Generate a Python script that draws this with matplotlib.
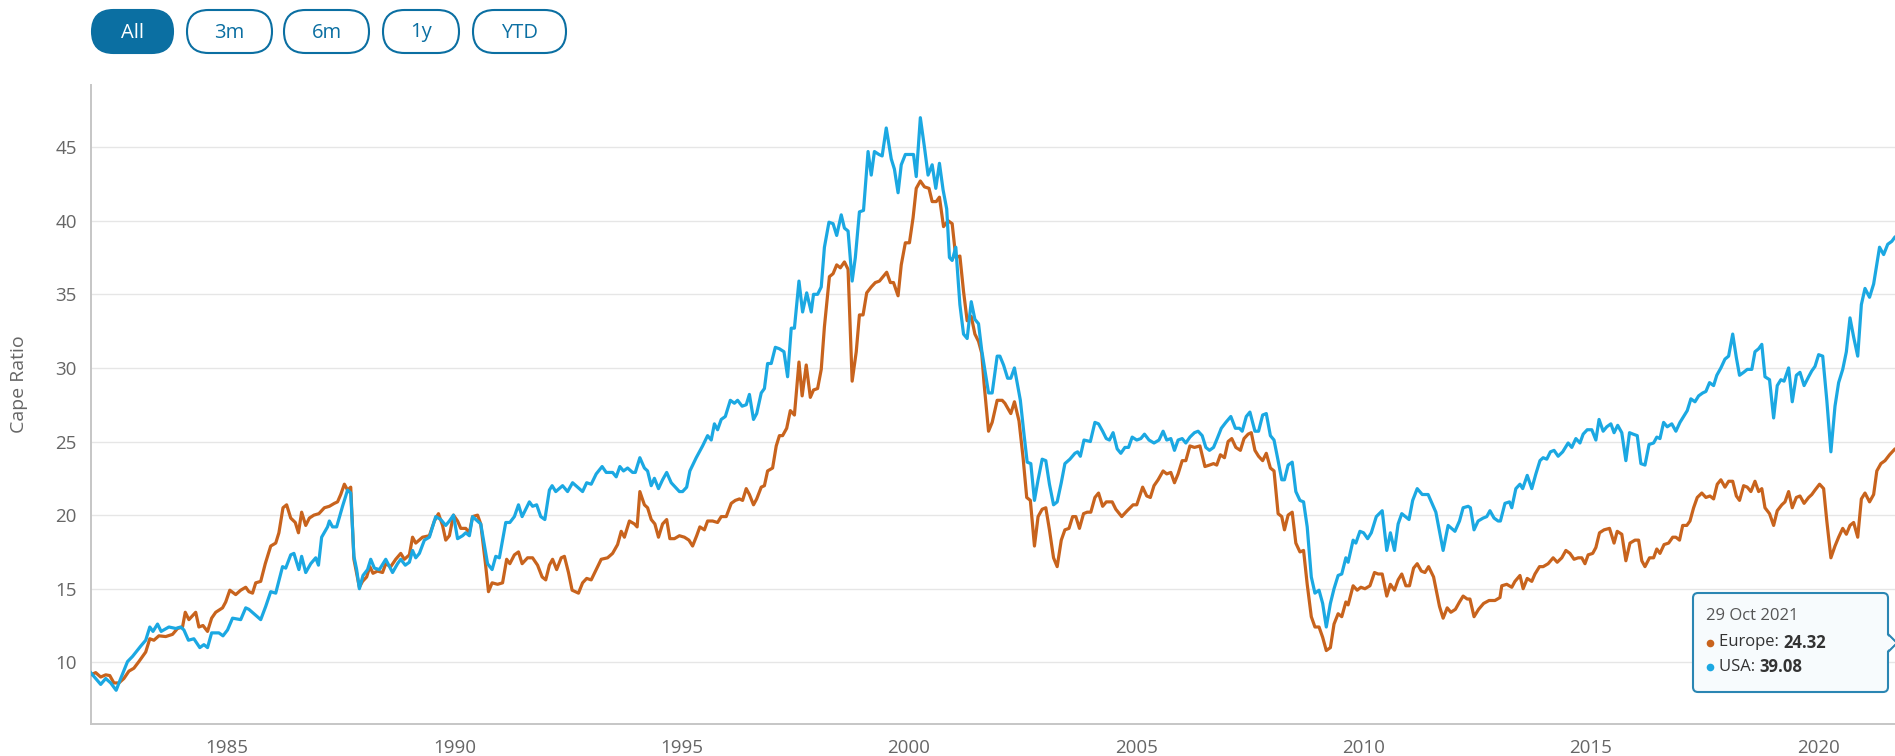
import matplotlib
matplotlib.use("Agg")
import matplotlib.pyplot as plt
from matplotlib.patches import FancyBboxPatch, Polygon

plt.rcParams['font.family'] = ['Open Sans', 'DejaVu Sans']

# ---------------- data (decimal years, CAPE ratio) ----------------
usa_dates = [
    1982.00, 1982.11, 1982.22, 1982.33, 1982.44, 1982.56, 1982.66, 1982.81, 1982.92, 1983.10,
    1983.21, 1983.30, 1983.37, 1983.47, 1983.55, 1983.72, 1983.87, 1983.98, 1984.05, 1984.15,
    1984.27, 1984.40, 1984.49, 1984.57, 1984.66, 1984.82, 1984.91, 1985.01, 1985.12, 1985.30,
    1985.41, 1985.48, 1985.63, 1985.74, 1985.85, 1985.96, 1986.07, 1986.22, 1986.29, 1986.40,
    1986.47, 1986.58, 1986.64, 1986.73, 1986.84, 1986.95, 1987.01, 1987.08, 1987.21, 1987.25,
    1987.32, 1987.41, 1987.54, 1987.65, 1987.72, 1987.79, 1987.85, 1987.91, 1987.99, 1988.09,
    1988.16, 1988.24, 1988.35, 1988.49, 1988.64, 1988.75, 1988.82, 1988.92, 1989.01, 1989.08,
    1989.15, 1989.23, 1989.34, 1989.45, 1989.52, 1989.59, 1989.70, 1989.81, 1989.89, 1989.98,
    1990.07, 1990.18, 1990.25, 1990.33, 1990.40, 1990.51, 1990.58, 1990.73, 1990.83, 1990.91,
    1990.99, 1991.13, 1991.22, 1991.32, 1991.41, 1991.49, 1991.65, 1991.72, 1991.81, 1991.90,
    1991.99, 1992.09, 1992.15, 1992.23, 1992.38, 1992.49, 1992.60, 1992.71, 1992.82, 1992.91,
    1993.01, 1993.12, 1993.25, 1993.34, 1993.48, 1993.56, 1993.64, 1993.72, 1993.81, 1993.92,
    1993.98, 1994.08, 1994.18, 1994.25, 1994.33, 1994.40, 1994.49, 1994.58, 1994.67, 1994.77,
    1994.86, 1994.95, 1995.02, 1995.11, 1995.18, 1995.32, 1995.46, 1995.57, 1995.65, 1995.72,
    1995.79, 1995.87, 1995.96, 1996.07, 1996.16, 1996.23, 1996.33, 1996.42, 1996.49, 1996.58,
    1996.65, 1996.75, 1996.82, 1996.89, 1996.97, 1997.06, 1997.15, 1997.25, 1997.33, 1997.41,
    1997.48, 1997.58, 1997.66, 1997.75, 1997.85, 1997.90, 1997.99, 1998.07, 1998.14, 1998.24,
    1998.33, 1998.41, 1998.51, 1998.58, 1998.66, 1998.75, 1998.82, 1998.91, 1999.00, 1999.10,
    1999.17, 1999.24, 1999.34, 1999.41, 1999.50, 1999.61, 1999.68, 1999.76, 1999.83, 1999.92,
    2000.01, 2000.10, 2000.16, 2000.25, 2000.34, 2000.42, 2000.51, 2000.59, 2000.67, 2000.75,
    2000.83, 2000.89, 2000.95, 2001.03, 2001.12, 2001.20, 2001.28, 2001.37, 2001.45, 2001.53,
    2001.60, 2001.75, 2001.83, 2001.94, 2002.00, 2002.08, 2002.17, 2002.24, 2002.32, 2002.45,
    2002.53, 2002.60, 2002.68, 2002.76, 2002.84, 2002.93, 2003.01, 2003.09, 2003.18, 2003.26,
    2003.35, 2003.43, 2003.54, 2003.65, 2003.71, 2003.77, 2003.85, 2003.99, 2004.09, 2004.17,
    2004.26, 2004.34, 2004.41, 2004.49, 2004.58, 2004.66, 2004.75, 2004.83, 2004.91, 2005.01,
    2005.10, 2005.18, 2005.28, 2005.39, 2005.50, 2005.59, 2005.67, 2005.76, 2005.84, 2005.92,
    2006.01, 2006.09, 2006.18, 2006.28, 2006.36, 2006.45, 2006.53, 2006.61, 2006.70, 2006.78,
    2006.87, 2006.97, 2007.08, 2007.18, 2007.27, 2007.33, 2007.42, 2007.50, 2007.61, 2007.69,
    2007.78, 2007.86, 2007.95, 2008.03, 2008.12, 2008.20, 2008.26, 2008.34, 2008.43, 2008.51,
    2008.60, 2008.68, 2008.76, 2008.85, 2008.93, 2009.02, 2009.10, 2009.18, 2009.27, 2009.35,
    2009.44, 2009.52, 2009.61, 2009.66, 2009.77, 2009.83, 2009.92, 2010.00, 2010.09, 2010.17,
    2010.28, 2010.41, 2010.51, 2010.59, 2010.68, 2010.76, 2010.84, 2011.00, 2011.08, 2011.18,
    2011.29, 2011.42, 2011.59, 2011.75, 2011.86, 2012.01, 2012.11, 2012.19, 2012.30, 2012.35,
    2012.43, 2012.52, 2012.63, 2012.71, 2012.78, 2012.87, 2012.96, 2013.01, 2013.11, 2013.21,
    2013.26, 2013.35, 2013.44, 2013.50, 2013.60, 2013.70, 2013.79, 2013.88, 2013.95, 2014.03,
    2014.11, 2014.19, 2014.28, 2014.38, 2014.50, 2014.58, 2014.67, 2014.76, 2014.83, 2014.92,
    2015.02, 2015.11, 2015.18, 2015.27, 2015.35, 2015.44, 2015.51, 2015.59, 2015.68, 2015.77,
    2015.85, 2015.93, 2016.02, 2016.10, 2016.19, 2016.28, 2016.38, 2016.45, 2016.52, 2016.60,
    2016.68, 2016.78, 2016.87, 2016.96, 2017.04, 2017.12, 2017.20, 2017.29, 2017.37, 2017.46,
    2017.53, 2017.61, 2017.70, 2017.77, 2017.86, 2017.95, 2018.03, 2018.12, 2018.20, 2018.27,
    2018.36, 2018.44, 2018.54, 2018.61, 2018.69, 2018.76, 2018.83, 2018.93, 2019.02, 2019.10,
    2019.18, 2019.25, 2019.35, 2019.43, 2019.52, 2019.60, 2019.69, 2019.79, 2019.86, 2019.93,
    2020.01, 2020.10, 2020.19, 2020.28, 2020.37, 2020.45, 2020.54, 2020.62, 2020.70, 2020.78,
    2020.87, 2020.95, 2021.03, 2021.13, 2021.22, 2021.35, 2021.44, 2021.53, 2021.62, 2021.69,
    2021.83,
]
usa_cape = [
    9.3, 8.9, 8.5, 8.9, 8.6, 8.1, 8.9, 10.05, 10.4, 11.1,
    11.5, 12.4, 12.1, 12.6, 12.1, 12.4, 12.3, 12.4, 12.2, 11.5,
    11.6, 11.0, 11.2, 11.0, 12.0, 12.0, 11.8, 12.2, 13.0, 12.9,
    13.7, 13.6, 13.2, 12.9, 13.8, 14.8, 14.7, 16.5, 16.4, 17.3,
    17.4, 16.3, 17.2, 16.1, 16.7, 17.1, 16.6, 18.5, 19.2, 19.6,
    19.2, 19.2, 20.6, 21.7, 21.5, 17.2, 16.3, 15.0, 15.9, 16.3,
    17.0, 16.4, 16.3, 17.0, 16.1, 16.7, 17.0, 16.6, 16.8, 17.6,
    17.1, 17.4, 18.3, 18.5, 19.2, 19.9, 19.7, 19.3, 19.6, 20.0,
    18.4, 18.6, 18.8, 18.6, 19.9, 19.6, 19.4, 16.7, 16.3, 17.2,
    17.1, 19.5, 19.5, 19.9, 20.7, 19.9, 20.9, 20.6, 20.7, 19.9,
    19.7, 21.7, 22.0, 21.6, 22.0, 21.6, 22.2, 21.9, 21.6, 22.2,
    22.1, 22.8, 23.3, 22.9, 22.9, 22.6, 23.3, 23.0, 23.2, 22.9,
    22.9, 23.9, 23.2, 23.0, 22.0, 22.5, 21.8, 22.4, 22.9, 22.2,
    21.9, 21.6, 21.6, 21.9, 23.0, 23.9, 24.7, 25.4, 25.1, 26.2,
    25.8, 26.5, 26.7, 27.8, 27.6, 27.8, 27.4, 27.5, 28.2, 26.5,
    26.9, 28.3, 28.6, 30.3, 30.3, 31.4, 31.3, 31.1, 29.4, 32.7,
    32.7, 35.9, 33.8, 35.1, 33.8, 35.0, 35.0, 35.5, 38.2, 39.9,
    39.8, 39.0, 40.4, 39.5, 39.3, 35.9, 37.5, 40.6, 40.7, 44.7,
    43.1, 44.7, 44.5, 44.4, 46.3, 44.2, 43.5, 41.9, 43.8, 44.5,
    44.5, 44.5, 43.0, 47.0, 45.0, 43.1, 43.8, 42.2, 43.9, 42.1,
    40.8, 37.5, 37.3, 38.2, 34.3, 32.3, 32.0, 34.5, 33.3, 33.0,
    31.2, 28.3, 28.3, 30.8, 30.8, 30.2, 29.3, 29.3, 30.0, 27.8,
    25.5, 23.6, 23.5, 21.0, 22.4, 23.8, 23.7, 22.1, 20.7, 20.9,
    22.2, 23.5, 23.8, 24.2, 24.3, 24.0, 25.1, 25.0, 26.3, 26.2,
    25.7, 25.2, 25.1, 25.6, 24.5, 24.2, 24.6, 24.6, 25.3, 25.1,
    25.2, 25.5, 25.1, 24.9, 25.1, 25.7, 25.1, 25.2, 24.4, 25.1,
    25.2, 24.9, 25.3, 25.6, 25.7, 25.4, 24.6, 24.4, 24.6, 25.2,
    25.9, 26.3, 26.7, 25.9, 25.9, 25.7, 26.7, 27.0, 25.7, 25.7,
    26.8, 26.9, 25.4, 25.1, 23.7, 22.4, 22.4, 23.4, 23.6, 21.6,
    21.0, 20.9, 19.2, 15.8, 14.7, 14.9, 14.0, 12.4, 14.0, 15.0,
    15.9, 16.0, 17.1, 16.8, 18.3, 18.1, 18.9, 18.8, 18.4, 18.8,
    19.9, 20.3, 17.6, 18.8, 17.6, 19.4, 20.1, 19.7, 21.0, 21.8,
    21.4, 21.4, 20.2, 17.6, 19.3, 18.9, 19.6, 20.5, 20.6, 20.5,
    19.0, 19.6, 19.8, 19.9, 20.3, 19.8, 19.6, 19.6, 20.8, 20.9,
    20.5, 21.8, 22.1, 21.8, 22.7, 21.8, 22.8, 23.7, 23.9, 23.8,
    24.3, 24.4, 24.0, 24.3, 24.9, 24.6, 25.2, 24.9, 25.5, 25.8,
    25.8, 25.1, 26.5, 25.7, 26.0, 26.2, 25.6, 26.1, 25.6, 23.7,
    25.6, 25.5, 25.4, 23.5, 23.4, 24.8, 24.9, 25.3, 25.2, 26.3,
    26.0, 26.2, 25.7, 26.3, 26.7, 27.1, 27.9, 27.7, 28.1, 28.3,
    28.4, 29.0, 28.8, 29.5, 30.0, 30.6, 30.8, 32.3, 30.7, 29.5,
    29.7, 29.9, 29.9, 31.1, 31.3, 31.6, 29.4, 29.2, 26.6, 28.8,
    29.2, 29.1, 30.0, 27.7, 29.5, 29.7, 28.8, 29.4, 29.8, 30.1,
    30.9, 30.8, 27.8, 24.3, 27.4, 29.0, 29.9, 31.1, 33.4, 32.1,
    30.8, 34.3, 35.4, 34.8, 35.7, 38.2, 37.7, 38.4, 38.6, 38.9,
    39.08,
]

europe_dates = [
    1982.00, 1982.11, 1982.22, 1982.33, 1982.42, 1982.51, 1982.62, 1982.73, 1982.84, 1982.95,
    1983.06, 1983.21, 1983.30, 1983.39, 1983.50, 1983.65, 1983.80, 1983.91, 1984.02, 1984.08,
    1984.16, 1984.31, 1984.38, 1984.47, 1984.57, 1984.66, 1984.75, 1984.90, 1984.97, 1985.06,
    1985.19, 1985.30, 1985.41, 1985.48, 1985.56, 1985.63, 1985.74, 1985.84, 1985.96, 1986.07,
    1986.14, 1986.23, 1986.31, 1986.40, 1986.50, 1986.57, 1986.64, 1986.73, 1986.81, 1986.91,
    1987.02, 1987.14, 1987.25, 1987.36, 1987.43, 1987.50, 1987.58, 1987.65, 1987.72, 1987.79,
    1987.91, 1987.98, 1988.07, 1988.14, 1988.21, 1988.31, 1988.42, 1988.49, 1988.60, 1988.71,
    1988.82, 1988.90, 1989.01, 1989.08, 1989.15, 1989.30, 1989.45, 1989.56, 1989.65, 1989.74,
    1989.81, 1989.89, 1989.98, 1990.07, 1990.14, 1990.25, 1990.33, 1990.40, 1990.51, 1990.58,
    1990.68, 1990.75, 1990.83, 1990.95, 1991.06, 1991.15, 1991.22, 1991.32, 1991.41, 1991.49,
    1991.61, 1991.72, 1991.83, 1991.93, 1992.01, 1992.09, 1992.16, 1992.25, 1992.35, 1992.42,
    1992.51, 1992.59, 1992.73, 1992.82, 1992.91, 1993.01, 1993.12, 1993.23, 1993.37, 1993.48,
    1993.59, 1993.67, 1993.74, 1993.85, 1993.96, 1994.02, 1994.08, 1994.18, 1994.25, 1994.33,
    1994.41, 1994.49, 1994.58, 1994.67, 1994.74, 1994.84, 1994.95, 1995.06, 1995.16, 1995.24,
    1995.33, 1995.40, 1995.50, 1995.57, 1995.68, 1995.79, 1995.87, 1995.98, 1996.09, 1996.18,
    1996.27, 1996.34, 1996.42, 1996.49, 1996.58, 1996.65, 1996.75, 1996.82, 1996.89, 1997.00,
    1997.08, 1997.15, 1997.22, 1997.31, 1997.39, 1997.48, 1997.58, 1997.65, 1997.74, 1997.83,
    1997.90, 1997.99, 1998.07, 1998.14, 1998.25, 1998.33, 1998.41, 1998.49, 1998.58, 1998.66,
    1998.75, 1998.84, 1998.91, 1998.99, 1999.07, 1999.17, 1999.26, 1999.35, 1999.43, 1999.51,
    1999.59, 1999.66, 1999.76, 1999.83, 1999.92, 2000.01, 2000.09, 2000.16, 2000.25, 2000.34,
    2000.44, 2000.51, 2000.60, 2000.67, 2000.76, 2000.86, 2000.95, 2001.03, 2001.12, 2001.20,
    2001.28, 2001.37, 2001.45, 2001.53, 2001.60, 2001.65, 2001.75, 2001.83, 2001.94, 2002.05,
    2002.11, 2002.24, 2002.32, 2002.42, 2002.51, 2002.59, 2002.67, 2002.76, 2002.84, 2002.93,
    2003.01, 2003.09, 2003.18, 2003.26, 2003.35, 2003.43, 2003.52, 2003.60, 2003.67, 2003.75,
    2003.84, 2003.92, 2004.00, 2004.09, 2004.17, 2004.26, 2004.34, 2004.47, 2004.55, 2004.68,
    2004.80, 2004.93, 2005.01, 2005.14, 2005.23, 2005.31, 2005.39, 2005.48, 2005.59, 2005.67,
    2005.76, 2005.84, 2005.92, 2006.01, 2006.09, 2006.18, 2006.28, 2006.40, 2006.51, 2006.61,
    2006.70, 2006.77, 2006.85, 2006.94, 2007.02, 2007.10, 2007.19, 2007.29, 2007.37, 2007.46,
    2007.53, 2007.61, 2007.69, 2007.78, 2007.86, 2007.95, 2008.03, 2008.12, 2008.20, 2008.26,
    2008.34, 2008.43, 2008.51, 2008.60, 2008.68, 2008.76, 2008.85, 2008.93, 2009.02, 2009.10,
    2009.18, 2009.27, 2009.35, 2009.44, 2009.52, 2009.61, 2009.66, 2009.77, 2009.86, 2009.94,
    2010.03, 2010.14, 2010.24, 2010.32, 2010.41, 2010.51, 2010.59, 2010.68, 2010.76, 2010.84,
    2010.93, 2011.01, 2011.10, 2011.18, 2011.27, 2011.35, 2011.43, 2011.54, 2011.67, 2011.75,
    2011.84, 2011.92, 2012.02, 2012.11, 2012.19, 2012.28, 2012.34, 2012.43, 2012.53, 2012.64,
    2012.76, 2012.89, 2013.00, 2013.04, 2013.15, 2013.26, 2013.33, 2013.44, 2013.51, 2013.60,
    2013.70, 2013.77, 2013.87, 2013.95, 2014.06, 2014.17, 2014.26, 2014.36, 2014.45, 2014.54,
    2014.63, 2014.72, 2014.80, 2014.87, 2014.94, 2015.04, 2015.11, 2015.19, 2015.29, 2015.41,
    2015.51, 2015.58, 2015.68, 2015.77, 2015.86, 2015.97, 2016.05, 2016.12, 2016.19, 2016.29,
    2016.38, 2016.45, 2016.52, 2016.61, 2016.71, 2016.80, 2016.87, 2016.95, 2017.02, 2017.11,
    2017.18, 2017.26, 2017.34, 2017.44, 2017.53, 2017.62, 2017.70, 2017.78, 2017.86, 2017.95,
    2018.03, 2018.12, 2018.20, 2018.27, 2018.36, 2018.44, 2018.52, 2018.61, 2018.69, 2018.76,
    2018.83, 2018.93, 2019.02, 2019.10, 2019.20, 2019.27, 2019.35, 2019.43, 2019.52, 2019.60,
    2019.69, 2019.79, 2019.86, 2019.93, 2020.03, 2020.12, 2020.19, 2020.28, 2020.37, 2020.45,
    2020.54, 2020.62, 2020.70, 2020.78, 2020.87, 2020.95, 2021.03, 2021.13, 2021.22, 2021.29,
    2021.38, 2021.47, 2021.57, 2021.69, 2021.83,
]
europe_cape = [
    9.15, 9.3, 9.0, 9.15, 9.1, 8.6, 8.6, 8.9, 9.4, 9.6,
    10.05, 10.7, 11.6, 11.5, 11.8, 11.75, 11.9, 12.3, 12.4, 13.4,
    12.9, 13.4, 12.4, 12.5, 12.1, 13.0, 13.4, 13.7, 14.1, 14.9,
    14.6, 14.9, 15.1, 14.8, 14.7, 15.4, 15.5, 16.7, 17.9, 18.1,
    18.8, 20.5, 20.7, 19.8, 19.5, 18.8, 20.2, 19.3, 19.8, 20.0,
    20.1, 20.5, 20.6, 20.8, 20.9, 21.4, 22.1, 21.7, 21.9, 17.0,
    15.1, 15.5, 15.8, 16.5, 16.05, 16.2, 16.1, 16.7, 16.5, 17.0,
    17.4, 17.0, 17.3, 18.5, 18.1, 18.5, 18.6, 19.6, 20.1, 19.3,
    18.3, 18.6, 20.0, 19.6, 19.1, 19.1, 18.8, 19.9, 20.0, 19.4,
    16.8, 14.8, 15.4, 15.3, 15.4, 17.0, 16.7, 17.3, 17.5, 16.7,
    17.1, 17.1, 16.6, 15.8, 15.6, 16.6, 17.0, 16.3, 17.1, 17.2,
    16.1, 14.9, 14.7, 15.4, 15.7, 15.6, 16.3, 17.0, 17.1, 17.4,
    18.0, 18.9, 18.5, 19.6, 19.4, 19.2, 21.6, 20.7, 20.5, 19.7,
    19.4, 18.5, 19.4, 19.7, 18.4, 18.4, 18.6, 18.5, 18.3, 17.9,
    18.6, 19.2, 19.0, 19.6, 19.6, 19.5, 19.9, 19.9, 20.8, 21.0,
    21.1, 21.0, 21.8, 21.4, 20.7, 21.1, 21.9, 22.0, 23.0, 23.2,
    24.7, 25.4, 25.4, 25.9, 27.1, 26.8, 30.4, 28.1, 30.2, 28.0,
    28.5, 28.6, 29.9, 32.8, 36.2, 36.4, 37.0, 36.8, 37.2, 36.7,
    29.1, 31.1, 33.6, 33.6, 35.1, 35.5, 35.8, 35.9, 36.2, 36.5,
    35.8, 35.8, 34.9, 37.0, 38.5, 38.5, 40.2, 42.2, 42.7, 42.3,
    42.2, 41.3, 41.3, 41.6, 39.6, 40.0, 39.8, 37.5, 37.6, 35.2,
    33.2, 33.5, 32.3, 31.8, 31.0, 29.0, 25.7, 26.3, 27.8, 27.8,
    27.6, 26.9, 27.7, 26.4, 23.9, 21.2, 21.0, 17.9, 19.9, 20.4,
    20.5, 19.0, 17.1, 16.5, 18.3, 19.0, 19.1, 19.9, 19.9, 19.1,
    20.1, 20.2, 20.2, 21.2, 21.5, 20.6, 20.9, 20.9, 20.4, 19.9,
    20.3, 20.7, 20.7, 21.9, 21.3, 21.2, 22.0, 22.4, 23.0, 22.8,
    22.9, 22.2, 22.8, 23.7, 23.7, 24.7, 24.6, 24.7, 23.3, 23.4,
    23.5, 23.4, 24.1, 23.9, 25.0, 25.2, 24.6, 24.4, 25.2, 25.5,
    25.6, 24.4, 24.0, 23.7, 24.2, 23.2, 23.0, 20.1, 19.9, 19.0,
    20.0, 20.2, 18.1, 17.5, 17.6, 15.3, 13.1, 12.4, 12.4, 11.7,
    10.8, 11.0, 12.6, 13.3, 13.1, 14.1, 13.9, 15.2, 14.9, 15.1,
    15.0, 15.2, 16.1, 16.0, 16.0, 14.5, 15.3, 14.9, 15.6, 16.0,
    15.2, 15.2, 16.4, 16.7, 16.2, 16.1, 16.5, 15.8, 13.8, 13.0,
    13.7, 13.4, 13.6, 14.1, 14.5, 14.3, 14.3, 13.1, 13.6, 14.0,
    14.2, 14.2, 14.4, 15.2, 15.3, 15.1, 15.5, 15.9, 15.0, 15.7,
    15.5, 16.0, 16.5, 16.5, 16.7, 17.1, 16.8, 17.1, 17.6, 17.4,
    17.0, 17.1, 17.1, 16.7, 17.3, 17.4, 17.8, 18.8, 19.0, 19.1,
    18.1, 18.9, 18.7, 16.9, 18.1, 18.3, 18.3, 16.9, 16.5, 17.1,
    17.1, 17.7, 17.4, 18.0, 18.1, 18.5, 18.5, 18.3, 19.3, 19.3,
    19.6, 20.5, 21.2, 21.5, 21.2, 21.3, 21.1, 22.1, 22.4, 21.9,
    22.3, 22.3, 21.3, 21.0, 22.0, 21.9, 21.6, 22.3, 21.6, 21.8,
    20.5, 20.1, 19.3, 20.3, 20.7, 20.9, 21.6, 20.5, 21.2, 21.3,
    20.8, 21.2, 21.4, 21.7, 22.1, 21.8, 19.6, 17.1, 17.9, 18.5,
    19.1, 18.7, 19.3, 19.5, 18.5, 21.1, 21.5, 20.9, 21.4, 23.0,
    23.5, 23.7, 24.1, 24.5, 24.32,
]

x_tick_years = [1985, 1990, 1995, 2000, 2005, 2010, 2015, 2020]
y_tick_values = [10, 15, 20, 25, 30, 35, 40, 45]
range_buttons = ["All", "3m", "6m", "1y", "YTD"]
tooltip_date = "29 Oct 2021"
tooltip_series = ["Europe", "USA"]
tooltip_values = [24.32, 39.08]

# ---------------- styling ----------------
W, H = 1895, 756
EUROPE_C = "#c8631d"
USA_C = "#1ba8e2"
BTN_C = "#0b6fa2"
TXT_C = "#666666"
TICK_FS = 13.5

fig = plt.figure(figsize=(W / 100, H / 100), dpi=100)
fig.patch.set_facecolor("white")

left_px, right_px, top_px, bottom_px = 90.7, 1895, 85, 724
ax = fig.add_axes([left_px / W, 1 - bottom_px / H,
                   (right_px - left_px) / W, (bottom_px - top_px) / H])

ax.plot(europe_dates, europe_cape, color=EUROPE_C, lw=2.3,
        solid_joinstyle="round", zorder=3)
ax.plot(usa_dates, usa_cape, color=USA_C, lw=2.3,
        solid_joinstyle="round", zorder=4)

ax.set_xlim(1982.0, 2021.69)
ax.set_ylim(5.81, 49.22)
ax.set_xticks(x_tick_years)
ax.set_xticklabels([str(y) for y in x_tick_years])
ax.set_yticks(y_tick_values)
ax.set_yticklabels([str(v) for v in y_tick_values])
ax.tick_params(axis="both", length=0, labelsize=TICK_FS, labelcolor=TXT_C)
ax.tick_params(axis="x", pad=11)
ax.tick_params(axis="y", pad=10)
ax.grid(axis="y", color="#e6e6e6", lw=1.0, zorder=0)
ax.set_axisbelow(True)
for s in ("top", "right"):
    ax.spines[s].set_visible(False)
for s in ("left", "bottom"):
    ax.spines[s].set_color("#c6c6c6")
    ax.spines[s].set_linewidth(1.4)

fig.text(19 / W, 1 - 384 / H, "Cape Ratio", rotation=90, ha="center",
         va="center", fontsize=14, color=TXT_C)

# ---------------- overlay (pixel coordinates) ----------------
ov = fig.add_axes([0, 0, 1, 1], zorder=10)
ov.set_xlim(0, W)
ov.set_ylim(H, 0)
ov.axis("off")
ov.patch.set_alpha(0)

btn_x = [92, 187, 284, 383, 473]
btn_w = [81, 85, 85, 76, 93]
btn_top, btn_h = 10, 43
for i, lab in enumerate(range_buttons):
    active = (i == 0)
    p = FancyBboxPatch((btn_x[i], btn_top), btn_w[i], btn_h,
                       boxstyle=f"round,pad=0,rounding_size={btn_h / 2}",
                       fc=BTN_C if active else "white", ec=BTN_C, lw=1.5)
    ov.add_patch(p)
    ov.text(btn_x[i] + btn_w[i] / 2, btn_top + btn_h / 2 + 1, lab,
            ha="center", va="center", fontsize=14.5,
            color="white" if active else BTN_C)

# tooltip
tt_x, tt_y, tt_w, tt_h = 1693, 593, 195, 99
ov.add_patch(Polygon([[tt_x + tt_w - 1, 633], [tt_x + tt_w + 9, 643],
                      [tt_x + tt_w - 1, 653]], closed=True,
                     fc="#f7fbfd", ec="#2a86b3", lw=1.5, zorder=1))
ov.add_patch(FancyBboxPatch((tt_x, tt_y), tt_w, tt_h,
                            boxstyle="round,pad=0,rounding_size=5",
                            fc="#f7fbfd", ec="#2a86b3", lw=1.5, zorder=2))
ov.add_patch(Polygon([[tt_x + tt_w - 2, 634], [tt_x + tt_w + 7, 643],
                      [tt_x + tt_w - 2, 652]], closed=True,
                     fc="#f7fbfd", ec="none", zorder=3))
ov.text(1706, 616, tooltip_date, ha="left", va="center", fontsize=12,
        color="#555555", zorder=4)
row_y = [642.5, 667]
row_c = [EUROPE_C, USA_C]
for name, val, y, c in zip(tooltip_series, tooltip_values, row_y, row_c):
    ov.plot([1710], [y], "o", ms=5.5, color=c, mec="none", zorder=4)
    t = ov.text(1719, y, f"{name}: ", ha="left", va="center",
                fontsize=12, color="#333333", zorder=4)
    ov.annotate(f"{val:.2f}", xy=(1, 0.5), xycoords=t, ha="left",
                va="center", fontsize=12, fontweight="bold",
                color="#333333", zorder=4)

fig.savefig("out.png", dpi=100, facecolor="white")
